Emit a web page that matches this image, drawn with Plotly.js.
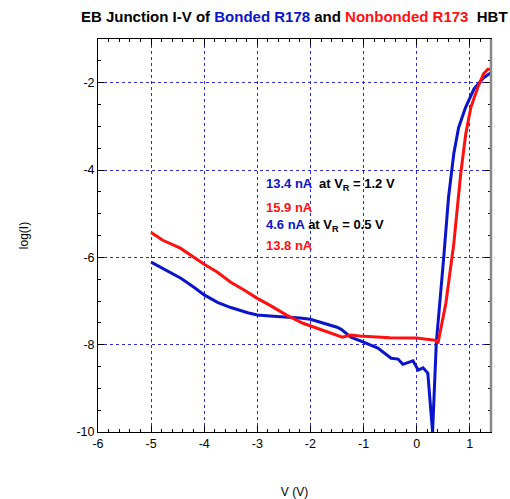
<!DOCTYPE html>
<html><head><meta charset="utf-8">
<script src="https://cdn.plot.ly/plotly-3.0.1.min.js"></script>
<style>html,body{margin:0;padding:0;background:#fff}#chart{width:510px;height:499px}</style>
</head><body><div id="chart"></div>
<script>
// Bonded R178 (blue)
const bondedV = [-5, -4.72, -4.44, -4.2, -4, -3.75, -3.5, -3.18, -3, -2.7, -2.42, -2.2, -2, -1.74, -1.5, -1.42, -1.24, -1.0, -0.73, -0.48, -0.35, -0.26, -0.07, 0.03, 0.12, 0.21, 0.30, 0.37, 0.42, 0.51, 0.60, 0.70, 0.79, 0.92, 1.08, 1.26, 1.40];
const bondedLogI = [-6.11, -6.30, -6.48, -6.68, -6.86, -7.03, -7.15, -7.27, -7.32, -7.35, -7.37, -7.39, -7.42, -7.51, -7.60, -7.65, -7.83, -7.94, -8.08, -8.31, -8.33, -8.45, -8.37, -8.58, -8.53, -8.65, -10.0, -7.96, -7.28, -6.0, -4.63, -3.62, -3.03, -2.57, -2.14, -1.89, -1.77];
// Nonbonded R173 (red)
const nonbondedV = [-5, -4.78, -4.45, -4.2, -4.0, -3.75, -3.5, -3.25, -3.0, -2.76, -2.44, -2.14, -1.74, -1.4, -1.24, -1.0, -0.5, 0, 0.36, 0.40, 0.55, 0.70, 0.83, 0.925, 1.02, 1.15, 1.26, 1.34, 1.40];
const nonbondedLogI = [-5.43, -5.61, -5.79, -6.0, -6.16, -6.34, -6.57, -6.75, -6.94, -7.10, -7.33, -7.51, -7.69, -7.83, -7.78, -7.81, -7.84, -7.85, -7.90, -7.97, -7.05, -5.68, -4.08, -3.17, -2.57, -2.11, -1.80, -1.69, -1.69];

// Tick labels (plain hyphen minus as in the reference)
const xTickVals = [-6, -5, -4, -3, -2, -1, 0, 1];
const xTickText = ['-6', '-5', '-4', '-3', '-2', '-1', '0', '1'];
const yTickVals = [-10, -8, -6, -4, -2];
const yTickText = ['-10', '-8', '-6', '-4', '-2'];

const BLUE = '#0a14c8', RED = '#ff1010';
const FONT = 'Liberation Sans, Arial, sans-serif';

const traces = [
  {x: bondedV, y: bondedLogI, mode: 'lines', line: {color: BLUE, width: 3}, name: 'Bonded R178'},
  {x: nonbondedV, y: nonbondedLogI, mode: 'lines', line: {color: RED, width: 3}, name: 'Nonbonded R173'}
];

const annFont = {family: FONT, size: 13, color: '#000'};
const layout = {
  width: 510, height: 499,
  margin: {l: 98, r: 19, t: 39, b: 67},
  paper_bgcolor: '#fff', plot_bgcolor: '#fff',
  showlegend: false,
  font: {family: FONT, size: 12, color: '#000'},
  title: {
    text: '<b>EB Junction I-V of <span style="color:#0a14c8">Bonded R178</span> and <span style="color:#ff1010">Nonbonded R173</span> &nbsp;HBT</b>',
    font: {family: FONT, size: 15, color: '#000'},
    x: 0.577, xanchor: 'center', y: 0.966, yanchor: 'middle'
  },
  xaxis: {
    range: [-6, 1.4], tickmode: 'array', tickvals: xTickVals, ticktext: xTickText,
    showgrid: true, gridcolor: '#2a2ae0', griddash: 'dot', gridwidth: 1,
    zeroline: false, showline: true, linecolor: '#000', linewidth: 1, mirror: 'ticks',
    ticks: 'inside', ticklen: 6, tickcolor: '#000',
    minor: {dtick: 0.2, tick0: 0, ticks: 'inside', ticklen: 3, tickcolor: '#000', showgrid: false},
    tickfont: {family: FONT, size: 12.5},
    title: {text: 'V (V)', font: {family: FONT, size: 12}, standoff: 38}
  },
  yaxis: {
    range: [-10, -1], tickmode: 'array', tickvals: yTickVals, ticktext: yTickText,
    showgrid: true, gridcolor: '#2a2ae0', griddash: 'dot', gridwidth: 1,
    zeroline: false, showline: true, linecolor: '#000', linewidth: 1, mirror: 'ticks',
    ticks: 'inside', ticklen: 6, tickcolor: '#000',
    minor: {dtick: 0.5, tick0: 0, ticks: 'inside', ticklen: 3, tickcolor: '#000', showgrid: false},
    tickfont: {family: FONT, size: 12.5},
    title: {text: 'log(I)', font: {family: FONT, size: 12}, standoff: 45}
  },
  shapes: [
    {type: 'line', xref: 'paper', yref: 'paper', x0: 1, x1: 1, y0: 0, y1: 1, line: {color: '#888', width: 2.5}}
  ],
  annotations: [
    {x: -2.88, y: -4.33, xref: 'x', yref: 'y', xanchor: 'left', yanchor: 'middle', showarrow: false, font: annFont,
     text: '<b><span style="color:#0a14c8">13.4 nA</span> &nbsp;at V<sub>R</sub> = 1.2 V</b>'},
    {x: -2.88, y: -4.86, xref: 'x', yref: 'y', xanchor: 'left', yanchor: 'middle', showarrow: false, font: annFont,
     text: '<b><span style="color:#ff1010">15.9 nA</span></b>'},
    {x: -2.88, y: -5.27, xref: 'x', yref: 'y', xanchor: 'left', yanchor: 'middle', showarrow: false, font: annFont,
     text: '<b><span style="color:#0a14c8">4.6 nA</span> at V<sub>R</sub> = 0.5 V</b>'},
    {x: -2.88, y: -5.73, xref: 'x', yref: 'y', xanchor: 'left', yanchor: 'middle', showarrow: false, font: annFont,
     text: '<b><span style="color:#ff1010">13.8 nA</span></b>'}
  ]
};

Plotly.newPlot('chart', traces, layout, {displayModeBar: false, staticPlot: true});
</script></body></html>
